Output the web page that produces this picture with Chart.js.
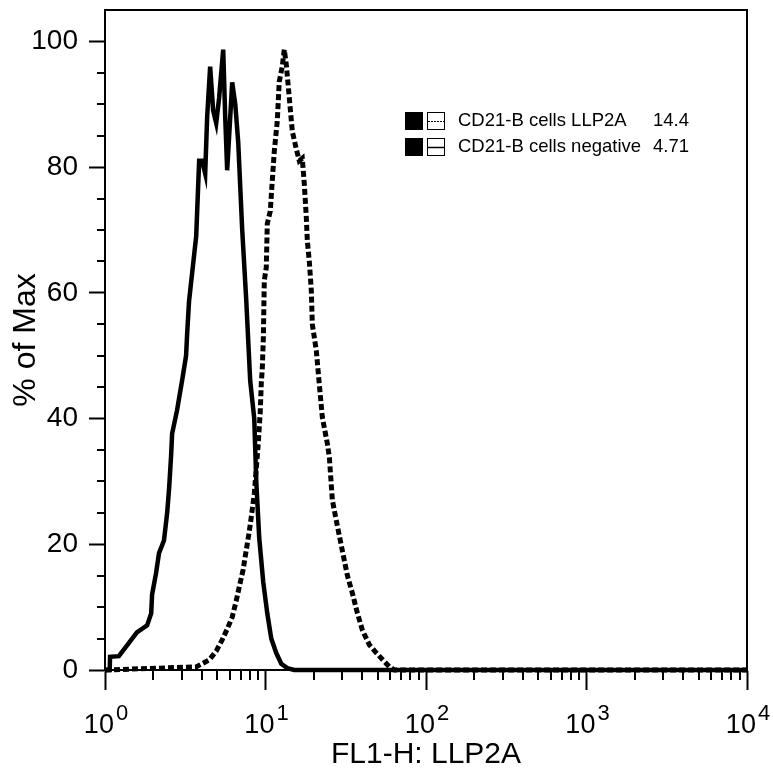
<!DOCTYPE html>
<html>
<head>
<meta charset="utf-8">
<script src="https://cdn.jsdelivr.net/npm/chart.js@4.4.0/dist/chart.umd.min.js"></script>
<style>
  html, body { margin: 0; padding: 0; background: #fff; }
  #wrap { position: relative; width: 773px; height: 775px; }
</style>
</head>
<body>
<div id="wrap"><canvas id="histChart"></canvas></div>
<script>
// FL1-H intensity (x) and % of Max (y) for each histogram
const llp2aX = [1, 3.70, 4.03, 4.46, 4.93, 5.37, 5.77, 6.20, 6.57, 6.86,
    7.26, 7.58, 7.92, 8.15, 8.51, 8.76, 9.01, 9.27, 9.41, 9.55,
    9.70, 9.83, 10.11, 10.26, 10.71, 11.0, 11.34, 11.84, 12.18, 12.72,
    13.09, 13.48, 14.07, 14.69, 15.55, 16.24, 16.95, 17.45, 17.96, 18.22,
    18.75, 19.3, 19.58, 20.73, 21.63, 22.6, 24.3, 25.0, 26.1, 28.0,
    30.1, 32.4, 34.8, 37.4, 40.2, 44.4, 49.1, 54.3, 59.2, 63.6, 10000];
const llp2aY = [0, 0.5, 1, 1.6, 3, 4.8, 6.5, 8.4, 11, 13.2,
    16, 19, 22, 24.3, 28, 32, 36, 41, 45.5, 48,
    53, 62, 64, 71, 73, 77.5, 82.5, 87.3, 93.6, 96,
    98.7, 96.3, 91, 85.7, 82.9, 81, 81.4, 77.3, 72, 68.3,
    65, 60.3, 55, 50.8, 45.5, 40.2, 36, 33.8, 27, 23,
    19, 15, 12.2, 9, 6.3, 4, 2.7, 1.5, 0.5, 0, 0];

const negX = [1, 1.07, 1.075, 1.22, 1.41, 1.58, 1.83, 1.94, 1.965, 2.08,
    2.17, 2.33, 2.44, 2.51, 2.58, 2.62, 2.81, 3.02, 3.20, 3.25,
    3.34, 3.59, 3.70, 3.86, 4.03, 4.21, 4.33, 4.52, 4.72, 4.93,
    5.14, 5.45, 5.61, 5.77, 6.03, 6.20, 6.48, 6.76, 7.16, 7.58,
    8.03, 8.51, 8.76, 9.14, 9.68, 10.26, 10.86, 11.67, 12.54, 13.67,
    15.1, 10000];
const negY = [0, 0, 2.1, 2.2, 4.3, 6, 7.1, 9, 12, 15.4,
    18.6, 20.6, 25, 29, 34, 37.6, 41.3, 46, 50, 53.5,
    58.7, 66, 69, 81, 81, 79, 88, 96, 89, 87,
    91, 98.7, 88, 79.5, 88, 93.5, 90, 84, 70, 59,
    46, 40, 30, 21, 14, 9, 5, 2.7, 1, 0.3,
    0, 0];

const legendLabels = ['CD21-B cells LLP2A', 'CD21-B cells negative'];
const legendValues = ['14.4', '4.71'];
const xMajorTicks = [1, 10, 100, 1000, 10000];
const xTickExponents = ['0', '1', '2', '3', '4'];

const FONT = "'Liberation Sans', Arial, Helvetica, sans-serif";

function toPoints(xs, ys) {
    return xs.map(function(x, i) { return { x: x, y: ys[i] }; });
}

// frame, minor ticks, superscript x labels and the legend box
const decorPlugin = {
    id: 'decor',
    afterDraw: function(chart) {
        const ctx = chart.ctx;
        const area = chart.chartArea;
        const xs = chart.scales.x;
        const ys = chart.scales.y;
        ctx.save();
        ctx.strokeStyle = '#000';
        ctx.lineWidth = 2;
        ctx.strokeRect(area.left, area.top, area.right - area.left, area.bottom - area.top);

        // minor x ticks
        ctx.beginPath();
        for (let k = 0; k < 4; k++) {
            for (let m = 2; m <= 9; m++) {
                const px = Math.round(xs.getPixelForValue(m * Math.pow(10, k)));
                ctx.moveTo(px, area.bottom);
                ctx.lineTo(px, area.bottom + 10);
            }
        }
        // minor y ticks
        for (let v = 5; v < 105; v += 5) {
            if (v % 20 === 0) continue;
            const py = Math.round(ys.getPixelForValue(v));
            ctx.moveTo(area.left - 8, py);
            ctx.lineTo(area.left, py);
        }
        ctx.stroke();

        // x labels 10^n
        ctx.fillStyle = '#000';
        ctx.textBaseline = 'alphabetic';
        xMajorTicks.forEach(function(v, i) {
            const px = xs.getPixelForValue(v);
            ctx.font = '27px ' + FONT;
            const wBase = ctx.measureText('10').width;
            ctx.font = '22px ' + FONT;
            const wExp = ctx.measureText(xTickExponents[i]).width;
            const left = px - (wBase + wExp) / 2;
            ctx.font = '27px ' + FONT;
            ctx.textAlign = 'left';
            ctx.fillText('10', left, 733);
            ctx.font = '22px ' + FONT;
            ctx.fillText(xTickExponents[i], left + wBase + 2, 720);
        });

        // legend
        const lx = 405;
        const rows = [121, 147];
        ctx.font = '18.5px ' + FONT;
        ctx.textBaseline = 'middle';
        rows.forEach(function(ry, i) {
            ctx.fillStyle = '#000';
            ctx.fillRect(lx, ry - 9, 18, 18);
            ctx.fillStyle = '#fff';
            ctx.fillRect(lx + 22, ry - 9, 18, 18);
            ctx.strokeStyle = '#000';
            ctx.lineWidth = 1;
            ctx.strokeRect(lx + 22.5, ry - 8.5, 17, 17);
            ctx.beginPath();
            ctx.lineWidth = i === 0 ? 1 : 1.5;
            ctx.setLineDash(i === 0 ? [2, 1] : []);
            ctx.moveTo(lx + 23, ry + 0.5);
            ctx.lineTo(lx + 39, ry + 0.5);
            ctx.stroke();
            ctx.setLineDash([]);
            ctx.fillStyle = '#000';
            ctx.textAlign = 'left';
            ctx.fillText(legendLabels[i], lx + 53, ry);
            ctx.textAlign = 'right';
            ctx.fillText(legendValues[i], 689, ry);
        });
        ctx.restore();
    }
};

document.addEventListener('DOMContentLoaded', function() {
    const ctx = document.getElementById('histChart').getContext('2d');
    new Chart(ctx, {
        type: 'line',
        data: {
            datasets: [{
                label: legendLabels[0],
                data: toPoints(llp2aX, llp2aY),
                borderColor: '#000',
                borderWidth: 5,
                borderDash: [6, 3],
                borderCapStyle: 'butt',
                pointRadius: 0,
                tension: 0,
                fill: false,
                clip: false
            }, {
                label: legendLabels[1],
                data: toPoints(negX, negY),
                borderColor: '#000',
                borderWidth: 4.5,
                pointRadius: 0,
                tension: 0,
                fill: false,
                clip: false
            }]
        },
        options: {
            responsive: true,
            maintainAspectRatio: false,
            animation: false,
            devicePixelRatio: 1,
            layout: { padding: { top: 10, right: 26, left: 0, bottom: 0 } },
            plugins: {
                legend: { display: false },
                tooltip: { enabled: false }
            },
            scales: {
                x: {
                    type: 'logarithmic',
                    position: 'bottom',
                    min: 1,
                    max: 10000,
                    afterBuildTicks: function(scale) {
                        scale.ticks = xMajorTicks.map(function(v) { return { value: v }; });
                    },
                    afterFit: function(scale) { scale.height = 105; },
                    ticks: { display: false },
                    grid: { drawOnChartArea: false, drawTicks: true, tickLength: 20, tickWidth: 2, tickColor: '#000' },
                    border: { display: true, color: '#000', width: 2 },
                    title: {
                        display: true,
                        text: 'FL1-H: LLP2A',
                        color: '#000',
                        font: { family: FONT, size: 30 },
                        padding: { top: 0, bottom: 2 }
                    }
                },
                y: {
                    type: 'linear',
                    min: 0,
                    max: 105,
                    afterFit: function(scale) {
                        scale.width = 105;
                        scale.paddingTop = 0;
                        scale.paddingBottom = 0;
                    },
                    ticks: {
                        stepSize: 20,
                        includeBounds: false,
                        color: '#000',
                        padding: 11,
                        font: { family: FONT, size: 28 }
                    },
                    grid: { drawOnChartArea: false, drawTicks: true, tickLength: 16, tickWidth: 2, tickColor: '#000' },
                    border: { display: true, color: '#000', width: 2 },
                    title: {
                        display: true,
                        text: '% of Max',
                        color: '#000',
                        font: { family: FONT, size: 32 },
                        padding: { top: 7, bottom: 0 }
                    }
                }
            }
        },
        plugins: [decorPlugin]
    });
});
</script>
</body>
</html>
